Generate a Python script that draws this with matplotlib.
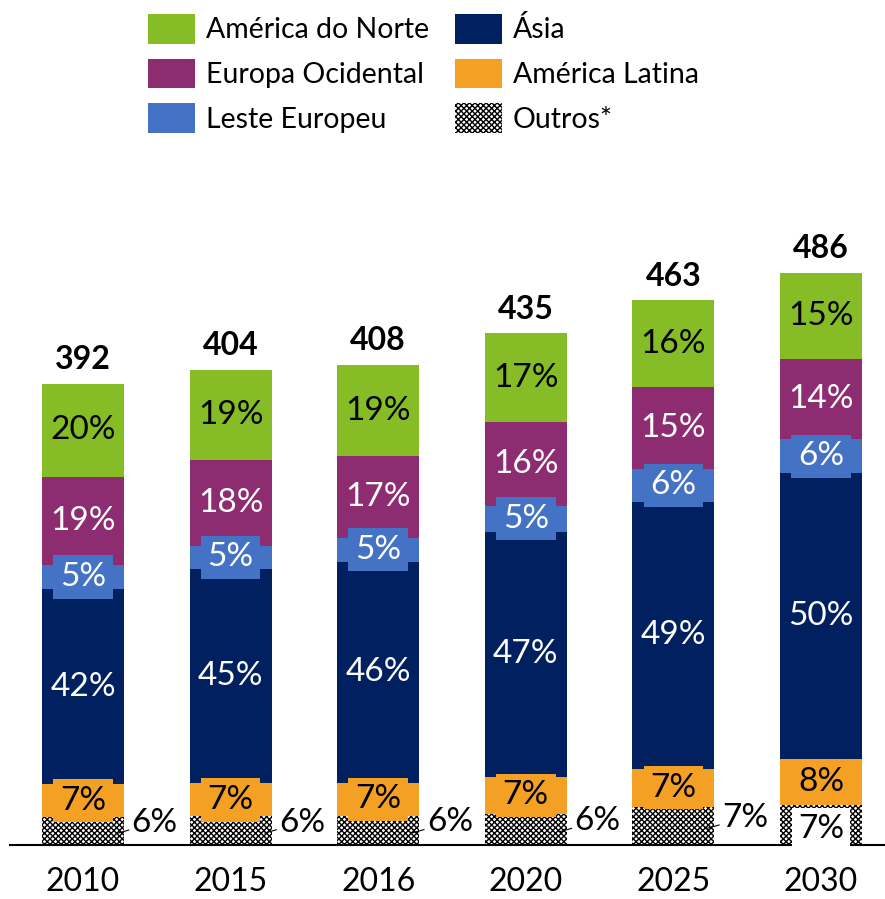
import numpy as np
import matplotlib.pyplot as plt
from matplotlib.patches import Patch

plt.rcParams['font.family'] = ['Lato', 'DejaVu Sans']
plt.rcParams['hatch.linewidth'] = 1.0

anos = ['2010', '2015', '2016', '2020', '2025', '2030']
totais = [392, 404, 408, 435, 463, 486]

# percentuais por região (de baixo para cima)
outros = [6, 6, 6, 6, 7, 7]
america_latina = [7, 7, 7, 7, 7, 8]
asia = [42, 45, 46, 47, 49, 50]
leste_europeu = [5, 5, 5, 5, 6, 6]
europa_ocidental = [19, 18, 17, 16, 15, 14]
america_norte = [20, 19, 19, 17, 16, 15]

series = [
    ('Outros*', outros, 'white', 'black'),
    ('América Latina', america_latina, '#F4A024', 'black'),
    ('Ásia', asia, '#002060', 'white'),
    ('Leste Europeu', leste_europeu, '#4472C4', 'white'),
    ('Europa Ocidental', europa_ocidental, '#8E2C71', 'white'),
    ('América do Norte', america_norte, '#86BC25', 'black'),
]

fig = plt.figure(figsize=(8.85, 8.99), dpi=100)
px = 1 / 1.1765  # unidades por pixel
ax = fig.add_axes([10 / 885, 54 / 899, 875 / 885, 695 / 899])

x = np.arange(len(anos))
largura = 0.556
soma = np.array([sum(s[1][i] for s in series) for i in range(len(anos))])
base = np.zeros(len(anos))

for nome, pct, cor, cor_txt in series:
    alturas = np.array(pct) / soma * np.array(totais)
    if nome == 'Outros*':
        ax.bar(x, alturas, largura, bottom=base, color='white', edgecolor='black',
               hatch='xxxxxx', linewidth=0, zorder=2)
    else:
        ax.bar(x, alturas, largura, bottom=base, color=cor, linewidth=0, zorder=2)
    for i in range(len(anos)):
        yc = base[i] + alturas[i] / 2
        rot = f'{pct[i]}%'
        if nome == 'Outros*':
            if i == len(anos) - 1:
                ax.text(x[i], yc - 3, rot, ha='center', va='center', fontsize=24,
                        color='black', zorder=5,
                        bbox=dict(boxstyle='square,pad=0.18', facecolor='white', edgecolor='none'))
            else:
                ax.annotate(rot, xy=(x[i] + 0.23, yc - 2), xytext=(x[i] + 0.33, yc + 7),
                            ha='left', va='center', fontsize=24, color='black', zorder=5,
                            arrowprops=dict(arrowstyle='-', color='black', lw=0.8,
                                            shrinkA=0, shrinkB=0))
        else:
            ax.text(x[i], yc, rot, ha='center', va='center', fontsize=24, color=cor_txt,
                    zorder=4,
                    bbox=dict(boxstyle='square,pad=0.2', facecolor=cor, edgecolor='none'))
    base += alturas

for i, t in enumerate(totais):
    ax.annotate(str(t), xy=(x[i], t), xytext=(0, 7), textcoords='offset points',
                ha='center', va='bottom', fontsize=23, fontweight='bold')

ax.set_xlim(-(83 - 10) / 147.6, (885 - 83) / 147.6)
ax.set_ylim(0, 695 * px)
ax.set_xticks(x)
ax.set_xticklabels(anos, fontsize=23)
ax.tick_params(axis='x', length=0, pad=16)
ax.set_yticks([])
for lado in ['top', 'right', 'left']:
    ax.spines[lado].set_visible(False)
ax.spines['bottom'].set_linewidth(1.5)
ax.spines['bottom'].set_zorder(3)

handles = [
    Patch(facecolor='#86BC25', label='América do Norte'),
    Patch(facecolor='#8E2C71', label='Europa Ocidental'),
    Patch(facecolor='#4472C4', label='Leste Europeu'),
    Patch(facecolor='#002060', label='Ásia'),
    Patch(facecolor='#F4A024', label='América Latina'),
    Patch(facecolor='white', edgecolor='black', hatch='xxxxxx', linewidth=0, label='Outros*'),
]
fig.legend(handles=handles, ncol=2, loc='upper left', bbox_to_anchor=(148 / 885, 1 - 14 / 899),
           frameon=False, fontsize=20.5, handlelength=1.65, handleheight=1.23,
           handletextpad=0.39, columnspacing=0.9, labelspacing=0.52, borderpad=0,
           borderaxespad=0)

fig.savefig('out.png', dpi=100)
